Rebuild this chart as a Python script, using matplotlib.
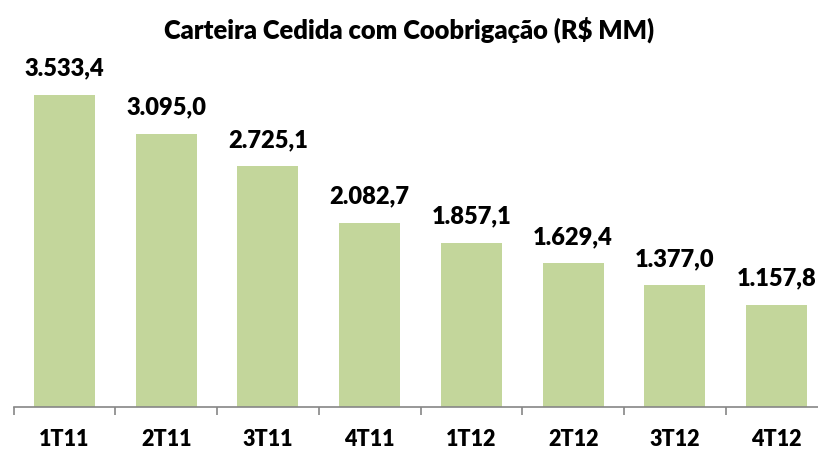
import matplotlib
matplotlib.use("Agg")
import matplotlib.pyplot as plt
import numpy as np

quarters = ["1T11", "2T11", "3T11", "4T11", "1T12", "2T12", "3T12", "4T12"]
values = [3533.4, 3095.0, 2725.1, 2082.7, 1857.1, 1629.4, 1377.0, 1157.8]
value_labels = ["3.533,4", "3.095,0", "2.725,1", "2.082,7", "1.857,1", "1.629,4", "1.377,0", "1.157,8"]

plt.rcParams["font.family"] = ["Lato", "DejaVu Sans"]
W = "heavy"

fig = plt.figure(figsize=(8.18, 4.53), dpi=100)
# axis runs off the right edge of the image like the original
ax = fig.add_axes([13.6 / 818, 46 / 453, 814 / 818, 367 / 453])

x = np.arange(len(quarters))
ax.bar(x, values, width=0.6, color="#C3D69B")
for xi, v, lab in zip(x, values, value_labels):
    ax.annotate(lab, (xi, v), xytext=(0, 11), textcoords="offset points",
                ha="center", va="bottom", fontsize=17, fontweight=W)

ax.set_xlim(-0.5, len(quarters) - 0.5)
ax.set_ylim(0, 4156)
ax.set_yticks([])
for side in ("top", "right", "left"):
    ax.spines[side].set_visible(False)
ax.spines["bottom"].set_color("#868686")
ax.spines["bottom"].set_linewidth(1.2)

ax.set_xticks(x)
ax.set_xticklabels(quarters, fontsize=15.5, fontweight=W)
ax.tick_params(axis="x", length=0, pad=16)
ax.set_xticks(np.arange(-0.5, len(quarters)), minor=True)
ax.tick_params(axis="x", which="minor", length=6, color="#868686", width=1.2)

fig.text(0.5, 1 - 30 / 453, "Carteira Cedida com Coobrigação (R$ MM)",
         ha="center", va="center", fontsize=18.4, fontweight=W)

fig.savefig("out.png", dpi=100)
